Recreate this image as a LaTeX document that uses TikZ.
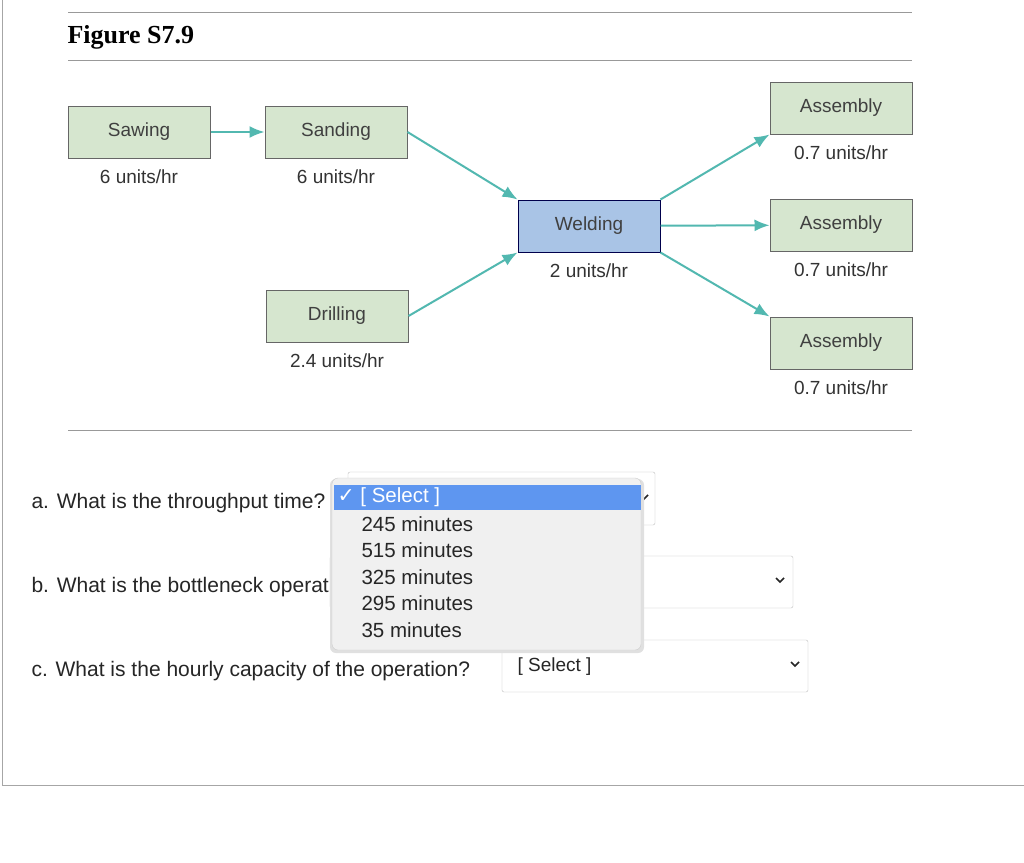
\documentclass[tikz,border=0pt]{standalone}
\usepackage{fontspec}
\setmainfont{Liberation Sans}
\newfontfamily\figfont{Liberation Serif}
\newfontfamily\symfont{DejaVu Sans}
\usetikzlibrary{positioning,arrows.meta,shadows}
\definecolor{stgreen}{HTML}{D6E6CF}
\definecolor{stblue}{HTML}{A9C4E6}
\definecolor{flowteal}{HTML}{52B8B0}
\definecolor{pickblue}{HTML}{5E96F0}
\tikzset{
  station/.style={draw=gray!80!black, line width=1pt, minimum width=142pt, minimum height=52pt, fill=stgreen, font=\fontsize{19}{22}\selectfont, text=black!75},
  rate/.style={font=\fontsize{19}{22}\selectfont, text=black!80},
  flow/.style={draw=flowteal, line width=2pt, -{Latex[length=15pt,width=12pt]}},
  question/.style={anchor=west, font=\fontsize{21}{24}\selectfont, text=black!85},
  selbox/.style={draw=black!25, rounded corners=2pt, fill=white},
  item/.style={anchor=west, font=\fontsize{20.5}{23}\selectfont, text=black!85}
}
\begin{document}
\begin{tikzpicture}[x=1pt,y=-1pt]
\useasboundingbox (0,0) rectangle (1024,862);
\fill[white] (0,0) rectangle (1024,862);
% page frame
\draw[black!35] (2,0) -- (2,785) -- (1024,785);
\draw[black!40] (68,12) -- (912,12);
\draw[black!40] (68,60) -- (912,60);
\draw[black!40] (68,430) -- (912,430);
\node[anchor=west, font=\figfont\bfseries\fontsize{26}{30}\selectfont] (title) at (64,37) {Figure S7.9};

% stations
\node[station] (sawing) at (139,132) {Sawing};
\node[station] (sanding) at (336,132) {Sanding};
\node[station] (drilling) at (337,316) {Drilling};
\node[station, fill=stblue, draw=black!70!blue] (welding) at (589,226) {Welding};
\node[station] (asm1) at (841,108) {Assembly};
\node[station] (asm2) at (841,225) {Assembly};
\node[station] (asm3) at (841,343) {Assembly};

\node[rate, below=8pt of sawing] (rsaw) {6 units/hr};
\node[rate, below=8pt of sanding] (rsand) {6 units/hr};
\node[rate, below=8pt of drilling] (rdrill) {2.4 units/hr};
\node[rate, below=8pt of welding] (rweld) {2 units/hr};
\node[rate, below=8pt of asm1] (rasm1) {0.7 units/hr};
\node[rate, below=8pt of asm2] (rasm2) {0.7 units/hr};
\node[rate, below=8pt of asm3] (rasm3) {0.7 units/hr};

\draw[flow] (sawing) -- (sanding);
\draw[flow] (sanding.east) -- (welding.north west);
\draw[flow] (drilling.east) -- (welding.south west);
\draw[flow] (welding.north east) -- (asm1.south west);
\draw[flow] (welding) -- (asm2);
\draw[flow] (welding.south east) -- (asm3.north west);

% questions
\node[question] (qa) at (28,503) {a. What is the throughput time?};
\node[question] (qb) at (28,587) {b. What is the bottleneck operation?};
\node[question] (qc) at (28,671) {c. What is the hourly capacity of the operation?};

\draw[selbox] (348,472) rectangle (655,525);
\draw[selbox] (330,556) rectangle (793,608);
\draw[selbox] (502,640) rectangle (808,692);
\node[item, font=\fontsize{19}{22}\selectfont] (selc) at (514,667) {[ Select ]};
\draw[black!85, line width=1.5pt] (640,495) -- (644,499) -- (648,495);
\draw[black!85, line width=1.5pt] (776,578) -- (780,582) -- (784,578);
\draw[black!85, line width=1.5pt] (791,662) -- (795,666) -- (799,662);

% open drop-down
\fill[black!12, rounded corners=6pt] (330,479) rectangle (644,653);
\draw[black!20, fill=black!6, rounded corners=6pt] (332,478) rectangle (641,650);
\fill[pickblue] (334,485) rectangle (641,510);
\node[item, text=white] (sel) at (334,497) {{\symfont ✓} [ Select ]};
\node[item] (o1) at (358,524) {245 minutes};
\node[item] (o2) at (358,550) {515 minutes};
\node[item] (o3) at (358,577) {325 minutes};
\node[item] (o4) at (358,603) {295 minutes};
\node[item] (o5) at (358,630) {35 minutes};
\end{tikzpicture}
\end{document}
